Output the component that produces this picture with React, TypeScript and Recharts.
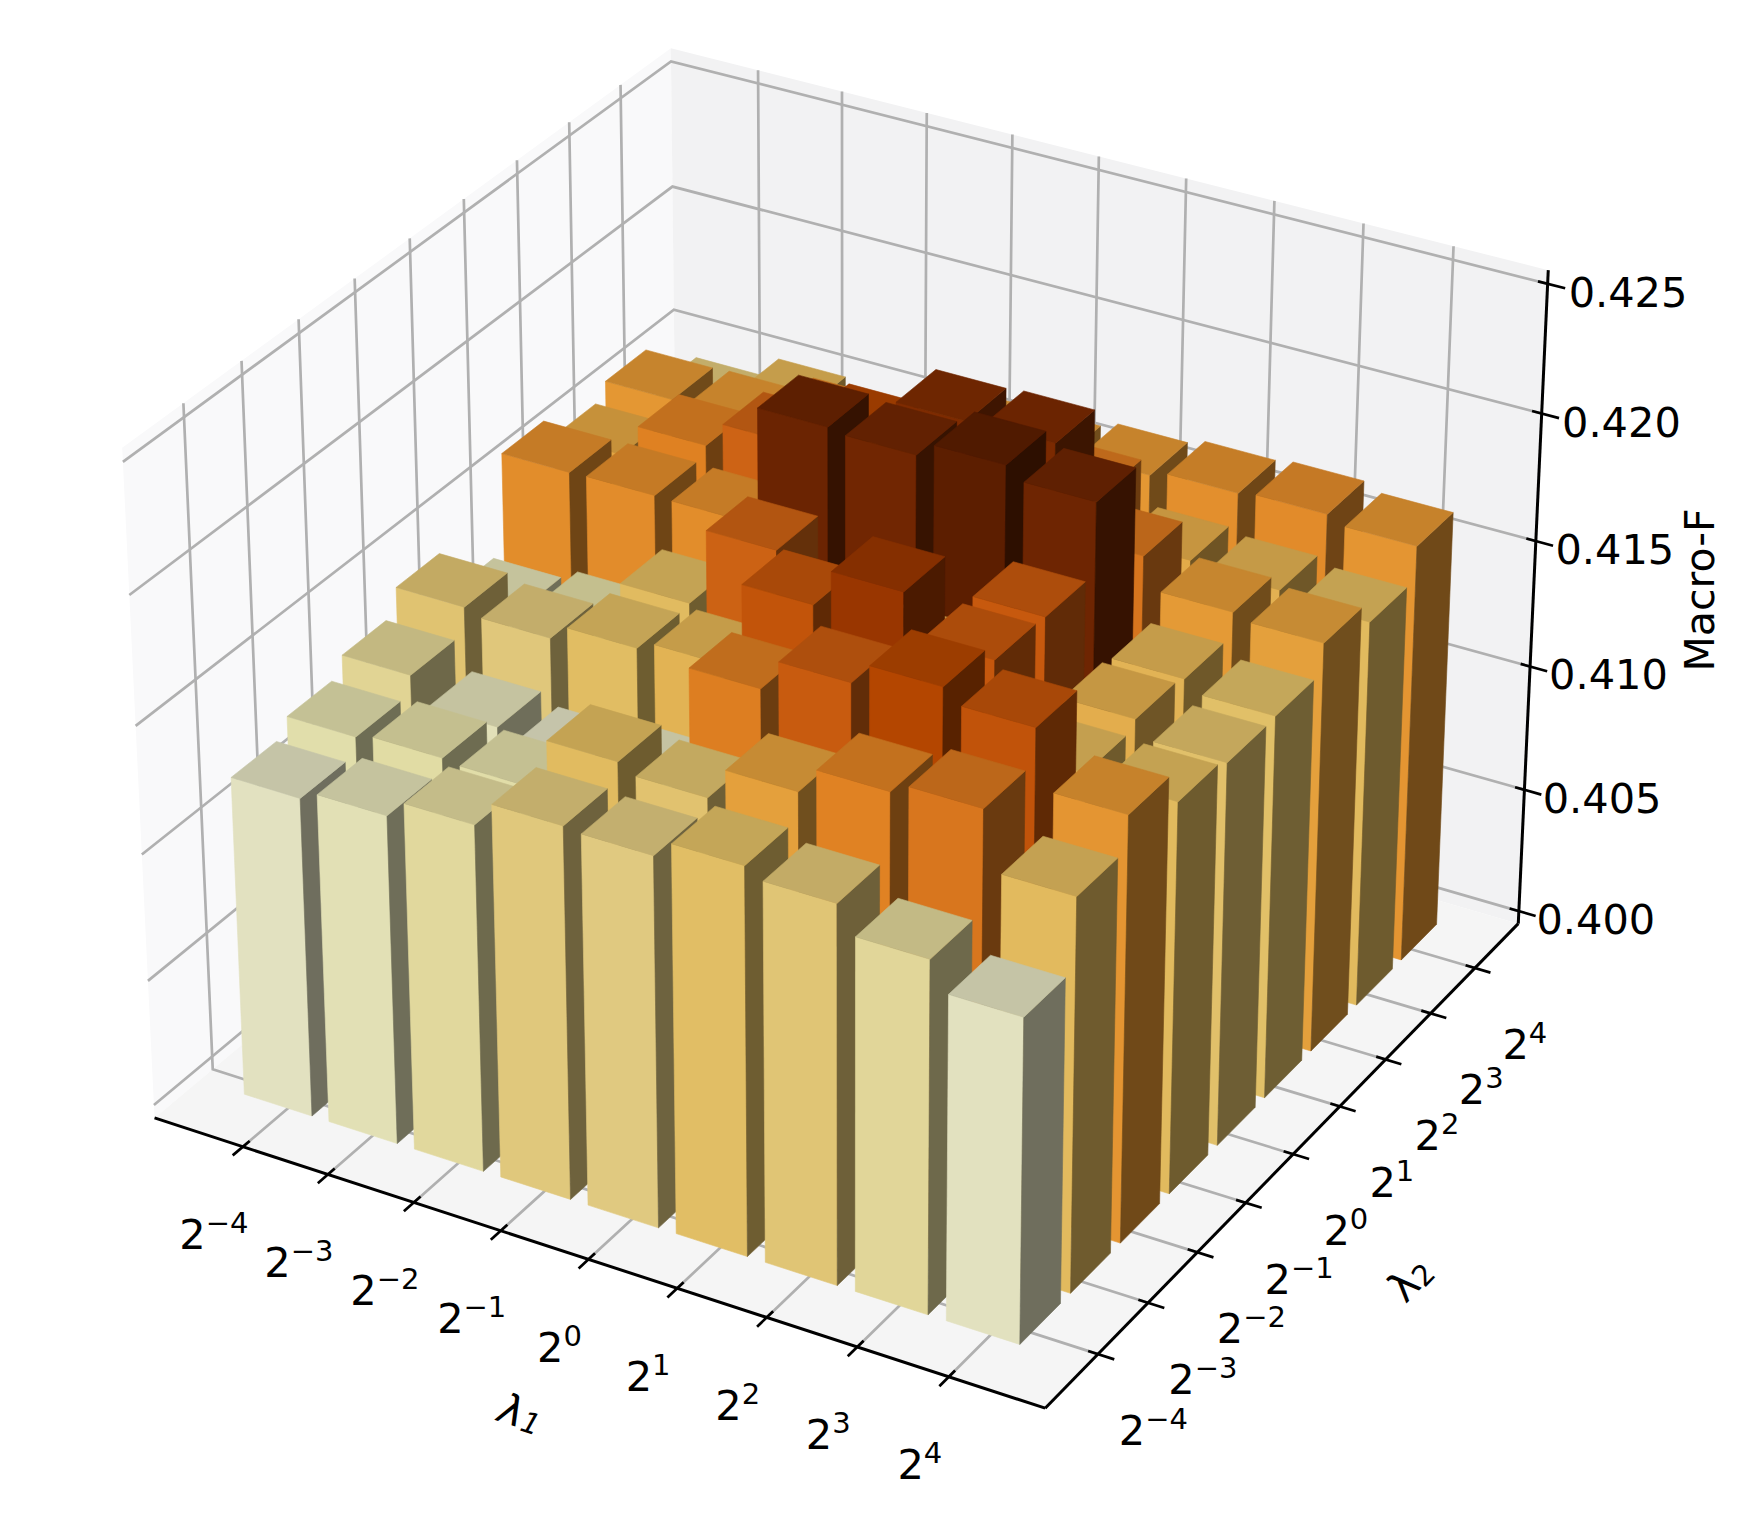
import * as React from "react";
import { Scatter, ScatterChart, XAxis, YAxis } from "recharts";

// 3D bar chart of Macro-F over (lambda1, lambda2). Recharts has no 3D, so every
// mark is projected mplot3d-style (elev 30, azim -60) into a 1:1 pixel domain
// and drawn by Scatter custom shapes.

const WIDTH = 1762;
const HEIGHT = 1529;

const tickExponents = [-4, -3, -2, -1, 0, 1, 2, 3, 4];
const zTicks = [0.4, 0.405, 0.41, 0.415, 0.42, 0.425];

// one list per lambda2 value, each running over lambda1
const lambda2Minus4 = [0.4126, 0.41295, 0.41363, 0.41462, 0.41452, 0.41518, 0.4148, 0.41375, 0.41264];
const lambda2Minus3 = [0.41323, 0.41342, 0.41331, 0.4153, 0.41494, 0.41619, 0.41721, 0.4176, 0.41534];
const lambda2Minus2 = [0.41391, 0.41288, 0.41248, 0.4128, 0.41735, 0.41857, 0.41941, 0.41888, 0.41662];
const lambda2Minus1 = [0.41488, 0.41464, 0.41523, 0.41556, 0.41885, 0.42031, 0.41871, 0.41542, 0.41533];
const lambda2Zero = [0.41303, 0.41345, 0.41529, 0.41831, 0.4158, 0.4158, 0.41865, 0.41573, 0.41506];
const lambda2Plus1 = [0.41687, 0.4169, 0.41687, 0.42142, 0.42128, 0.42183, 0.42136, 0.41555, 0.41511];
const lambda2Plus2 = [0.41596, 0.41725, 0.41826, 0.4195, 0.42097, 0.42105, 0.41764, 0.41643, 0.41621];
const lambda2Plus3 = [0.41655, 0.4166, 0.41724, 0.4168, 0.417, 0.4175, 0.41581, 0.41561, 0.41533];
const lambda2Plus4 = [0.41467, 0.41552, 0.41524, 0.4163, 0.4163, 0.41657, 0.4168, 0.41692, 0.41662];
const macroF = [
  lambda2Minus4,
  lambda2Minus3,
  lambda2Minus2,
  lambda2Minus1,
  lambda2Zero,
  lambda2Plus1,
  lambda2Plus2,
  lambda2Plus3,
  lambda2Plus4,
];

// front-face colour by value
const COLOR_STOPS: [number, number[]][] = [
  [0.4124, [226, 226, 198]],
  [0.413, [226, 224, 180]],
  [0.4134, [225, 220, 165]],
  [0.4146, [224, 200, 125]],
  [0.4152, [225, 190, 100]],
  [0.416, [228, 165, 65]],
  [0.4166, [228, 150, 50]],
  [0.4172, [224, 130, 35]],
  [0.4178, [212, 112, 28]],
  [0.4186, [200, 90, 15]],
  [0.4194, [180, 70, 0]],
  [0.4204, [150, 52, 0]],
  [0.4213, [112, 38, 2]],
  [0.4218, [92, 30, 0]],
];

const FONT = "'DejaVu Sans', sans-serif";
const FONT_SIZE = 41.5;
const SUP_SIZE = 29;
const GRID_COLOR = "#b0b0b0";

type Pt = { x: number; y: number };

// camera basis for elev 30 / azim -60, box aspect 4:4:3
const BOX_XY = 1.1905;
const BOX_Z = 0.8929;
const COS30 = Math.cos(Math.PI / 6);

// a, b, c are 0..1 along the pane box
function project(a: number, b: number, c: number): Pt {
  const dx = (a - 0.5) * BOX_XY;
  const dy = (b - 0.5) * BOX_XY;
  const dz = (c - 0.5) * BOX_Z;
  const xc = COS30 * dx + 0.5 * dy;
  const yc = -0.25 * dx + 0.433 * dy + COS30 * dz;
  const zc = 0.433 * dx - 0.75 * dy + 0.5 * dz;
  const d = 10 - zc;
  return { x: 849 + (8570 * xc) / d, y: 695.5 - (8553 * yc) / d };
}

const tickA = (u: number) => 0.104 + 0.0991 * u;
const tickB = (u: number) => 0.103 + 0.0997 * u;
const barA = (u: number) => 0.066 + 0.0992 * u;
const barB = (u: number) => 0.061 + 0.0993 * u;
const zToC = (v: number) => 0.02 + (0.96 * (v - 0.4)) / 0.025;

function faceColor(v: number): number[] {
  const stops = COLOR_STOPS;
  if (v <= stops[0][0]) return stops[0][1];
  for (let k = 1; k < stops.length; k++) {
    if (v <= stops[k][0]) {
      const t = (v - stops[k - 1][0]) / (stops[k][0] - stops[k - 1][0]);
      return stops[k - 1][1].map((c, n) => c + (stops[k][1][n] - c) * t);
    }
  }
  return stops[stops.length - 1][1];
}

function rgb(c: number[], f: number): string {
  return `rgb(${c.map((n) => Math.round(n * f)).join(",")})`;
}

const poly = (pts: Pt[]) => pts.map((p) => `${p.x},${p.y}`).join(" ");

// ---- rows for the scatter layers ----

const paneRows = [
  { fill: "#f9f9fa", corners: [[0, 0, 0], [0, 1, 0], [0, 1, 1], [0, 0, 1]] },
  { fill: "#f2f2f3", corners: [[0, 1, 0], [1, 1, 0], [1, 1, 1], [0, 1, 1]] },
  { fill: "#f5f5f5", corners: [[0, 0, 0], [1, 0, 0], [1, 1, 0], [0, 1, 0]] },
].map((p) => {
  const pts = p.corners.map(([a, b, c]) => project(a, b, c));
  return { x: pts[0].x, y: pts[0].y, fill: p.fill, pts };
});

function pathRow(pts: Pt[], color: string, width: number) {
  return { x: pts[0].x, y: pts[0].y, pts, color, width };
}

const gridRows = [
  ...tickExponents.map((_, i) =>
    pathRow([project(tickA(i), 0, 0), project(tickA(i), 1, 0), project(tickA(i), 1, 1)], GRID_COLOR, 2.7),
  ),
  ...tickExponents.map((_, j) =>
    pathRow([project(1, tickB(j), 0), project(0, tickB(j), 0), project(0, tickB(j), 1)], GRID_COLOR, 2.7),
  ),
  ...zTicks.map((v) =>
    pathRow([project(0, 0, zToC(v)), project(0, 1, zToC(v)), project(1, 1, zToC(v))], GRID_COLOR, 2.7),
  ),
];

const axisRows = [
  pathRow([project(0, 0, 0), project(1, 0, 0)], "#000", 3),
  pathRow([project(1, 0, 0), project(1, 1, 0)], "#000", 3),
  pathRow([project(1, 1, 0), project(1, 1, 1)], "#000", 3),
  ...tickExponents.map((_, i) =>
    pathRow([project(tickA(i), 0.012, 0), project(tickA(i), -0.018, 0)], "#000", 2.7),
  ),
  ...tickExponents.map((_, j) =>
    pathRow([project(0.9895, tickB(j), 0), project(1.0175, tickB(j), 0)], "#000", 2.7),
  ),
  ...zTicks.map((v) =>
    pathRow([project(0.9895, 1, zToC(v)), project(1.019, 1, zToC(v))], "#000", 2.7),
  ),
];

const BAR_W = 0.8;
// back row first, left to right, so nearer bars paint over farther ones
const barRows = [8, 7, 6, 5, 4, 3, 2, 1, 0].flatMap((j) =>
  tickExponents.map((_, i) => {
    const a0 = barA(i);
    const a1 = barA(i + BAR_W);
    const b0 = barB(j);
    const b1 = barB(j + BAR_W);
    const value = macroF[j][i];
    const c0 = zToC(0.4);
    const c1 = zToC(value);
    const near = project(a1, b0, c1);
    return {
      x: near.x,
      y: near.y,
      value,
      front: [project(a0, b0, c0), project(a1, b0, c0), project(a1, b0, c1), project(a0, b0, c1)],
      side: [project(a1, b0, c0), project(a1, b1, c0), project(a1, b1, c1), project(a1, b0, c1)],
      top: [project(a0, b0, c1), project(a1, b0, c1), project(a1, b1, c1), project(a0, b1, c1)],
    };
  }),
);

const powerRows = [
  ...tickExponents.map((e, i) => {
    const p = project(tickA(i), 0, 0);
    return { x: p.x - 29, y: p.y + 84.5, exp: e };
  }),
  ...tickExponents.map((e, j) => {
    const p = project(1, tickB(j), 0);
    return { x: p.x + 55.5 - 0.7 * j, y: p.y + 73, exp: e };
  }),
];

const zLabelRows = zTicks.map((v) => {
  const p = project(1, 1, zToC(v));
  return { x: p.x + 77 + (3.4 * (v - 0.4)) / 0.025, y: p.y + 23, text: v.toFixed(3) };
});

const titleRows = [
  { x: 521, y: 1413, name: "1", rotate: 18, italicSub: true },
  { x: 1410, y: 1279, name: "2", rotate: -46, italicSub: false },
];
const zTitleRows = [{ x: 1700, y: 590, text: "Macro-F" }];

// ---- shapes ----

function PaneShape({ payload }: any) {
  return <polygon points={poly(payload.pts)} fill={payload.fill} />;
}

function PathShape({ payload }: any) {
  return <polyline points={poly(payload.pts)} fill="none" stroke={payload.color} strokeWidth={payload.width} />;
}

function BarShape({ payload }: any) {
  const c = faceColor(payload.value);
  const faces: [Pt[], string][] = [
    [payload.front, rgb(c, 1)],
    [payload.side, rgb(c, 0.49)],
    [payload.top, rgb(c, 0.87)],
  ];
  return (
    <g>
      {faces.map(([pts, fill], n) => (
        <polygon key={n} points={poly(pts)} fill={fill} stroke={fill} strokeWidth={0.6} />
      ))}
    </g>
  );
}

function PowerLabel({ payload }: any) {
  const exp = payload.exp < 0 ? `\u2212${-payload.exp}` : `${payload.exp}`;
  return (
    <text x={payload.x} y={payload.y + 18} textAnchor="middle" fontFamily={FONT} fontSize={FONT_SIZE} fill="#000">
      2
      <tspan dy={-16} fontSize={SUP_SIZE}>
        {exp}
      </tspan>
    </text>
  );
}

function ZLabel({ payload }: any) {
  return (
    <text x={payload.x} y={payload.y} textAnchor="middle" fontFamily={FONT} fontSize={FONT_SIZE} fill="#000">
      {payload.text}
    </text>
  );
}

function LambdaTitle({ payload }: any) {
  return (
    <text
      x={0}
      y={0}
      transform={`translate(${payload.x},${payload.y}) rotate(${payload.rotate})`}
      textAnchor="middle"
      dominantBaseline="central"
      fontFamily={FONT}
      fontSize={FONT_SIZE}
      fontStyle={payload.italicSub ? "italic" : "normal"}
      fill="#000"
    >
      λ
      <tspan dy={7} fontSize={SUP_SIZE}>
        {payload.name}
      </tspan>
    </text>
  );
}

function ZTitle({ payload }: any) {
  return (
    <text
      x={0}
      y={0}
      transform={`translate(${payload.x},${payload.y}) rotate(-90)`}
      textAnchor="middle"
      dominantBaseline="central"
      fontFamily={FONT}
      fontSize={41}
      fill="#000"
    >
      {payload.text}
    </text>
  );
}

export default function App() {
  return (
    <div style={{ position: "absolute", left: 0, top: 0, width: WIDTH, height: HEIGHT, background: "#fff" }}>
      <ScatterChart width={WIDTH} height={HEIGHT} margin={{ top: 0, right: 0, bottom: 0, left: 0 }}>
        <XAxis type="number" dataKey="x" domain={[0, WIDTH]} hide />
        <YAxis type="number" dataKey="y" domain={[0, HEIGHT]} reversed hide />
        <Scatter data={paneRows} shape={PaneShape} isAnimationActive={false} />
        <Scatter data={gridRows} shape={PathShape} isAnimationActive={false} />
        <Scatter data={axisRows} shape={PathShape} isAnimationActive={false} />
        <Scatter data={barRows} shape={BarShape} isAnimationActive={false} />
        <Scatter data={powerRows} shape={PowerLabel} isAnimationActive={false} />
        <Scatter data={zLabelRows} shape={ZLabel} isAnimationActive={false} />
        <Scatter data={titleRows} shape={LambdaTitle} isAnimationActive={false} />
        <Scatter data={zTitleRows} shape={ZTitle} isAnimationActive={false} />
      </ScatterChart>
    </div>
  );
}
